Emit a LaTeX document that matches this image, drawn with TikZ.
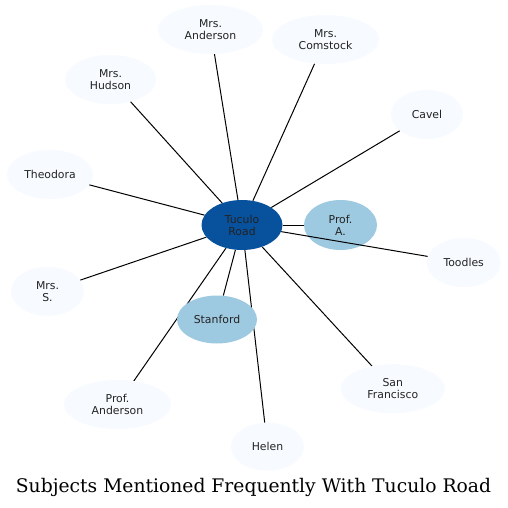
\documentclass[tikz,border=0pt]{standalone}
\usepackage{fontspec}
\setmainfont{DejaVu Sans}
\newfontfamily\titlefont{DejaVu Serif}
\usetikzlibrary{shapes.geometric}
\pgfdeclarelayer{background}
\pgfsetlayers{background,main}
\definecolor{cdark}{HTML}{08519C}
\definecolor{cmid}{HTML}{9ECAE1}
\definecolor{clight}{HTML}{F7FBFF}
\definecolor{ctext}{HTML}{222222}
\tikzset{
  bub/.style={ellipse, inner sep=0pt, align=center, text=ctext,
    font=\fontsize{10.9}{12}\selectfont},
  leaf/.style={bub, fill=clight},
  hub/.style={bub, fill=cmid},
  core/.style={bub, fill=cdark},
  link/.style={draw=black, line width=1bp},
}
\begin{document}
\begin{tikzpicture}[x=1bp,y=-1bp]
\useasboundingbox (0,0) rectangle (508,508);
\node[core, minimum width=81bp, minimum height=50bp] (t) at (242,225) {Tuculo\\Road};
\node[hub, minimum width=73bp, minimum height=50bp] (pa) at (340.5,225) {Prof.\\A.};
\node[hub, minimum width=80bp, minimum height=48bp] (st) at (217,319.5) {Stanford};
\node[leaf, minimum width=105bp, minimum height=49bp] (ma) at (210.5,29.5) {Mrs.\\Anderson};
\node[leaf, minimum width=91bp, minimum height=49bp] (mh) at (110.5,79.5) {Mrs.\\Hudson};
\node[leaf, minimum width=86bp, minimum height=49bp] (th) at (50,174.5) {Theodora};
\node[leaf, minimum width=107bp, minimum height=49bp] (mc) at (325.5,39.5) {Mrs.\\Comstock};
\node[leaf, minimum width=72bp, minimum height=49bp] (cv) at (427,114.5) {Cavel};
\node[leaf, minimum width=74bp, minimum height=49bp] (to) at (463.7,262.5) {Toodles};
\node[leaf, minimum width=73bp, minimum height=49bp] (ms) at (47.5,291.3) {Mrs.\\S.};
\node[leaf, minimum width=107bp, minimum height=49bp] (pan) at (117.5,404.5) {Prof.\\Anderson};
\node[leaf, minimum width=73bp, minimum height=48bp] (he) at (267.5,446.7) {Helen};
\node[leaf, minimum width=104bp, minimum height=49bp] (sf) at (392.8,388.7) {San\\Francisco};
\begin{pgfonlayer}{background}
\fill[white] (0,0) rectangle (508,508);
\draw[link] (t) -- (pa);
\draw[link] (t) -- (st);
\draw[link] (t) -- (ma);
\draw[link] (t) -- (mh);
\draw[link] (t) -- (th);
\draw[link] (t) -- (mc);
\draw[link] (t) -- (cv);
\draw[link] (t) -- (ms);
\draw[link] (t) -- (pan);
\draw[link] (t) -- (he);
\draw[link] (t) -- (sf);
\end{pgfonlayer}
\draw[link] (t) -- (to);
\node[font=\titlefont\fontsize{18.8}{22}\selectfont, text=black] (title) at (253.5,487.5) {Subjects Mentioned Frequently With Tuculo Road};
\end{tikzpicture}
\end{document}
